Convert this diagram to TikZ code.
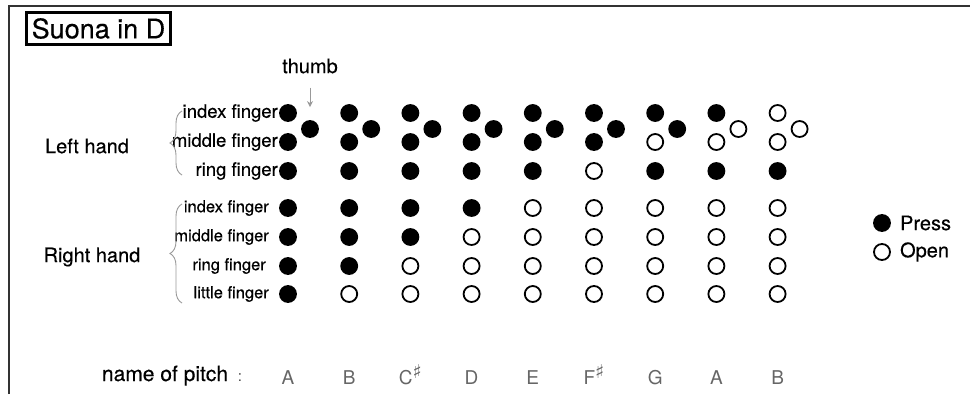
\documentclass[tikz,border=0pt]{standalone}
\usepackage{fontspec}
\setmainfont{TeX Gyre Heros}[FakeBold=0.4]
\newfontfamily\thinfont{TeX Gyre Heros}
\newfontfamily\symfont{DejaVu Sans}
\usepackage{tikz}
\usetikzlibrary{
  arrows.meta,
  calc,
  positioning,
  decorations.pathreplacing
}
\colorlet{x}{black}
\colorlet{o}{white}
\tikzset{
  hole/.style={circle,draw=black,line width=1.8pt,minimum size=16pt,inner sep=0pt},
  finger/.style={anchor=east,inner sep=0pt,font=\fontsize{18.5}{22}\selectfont},
  hand/.style={inner sep=0pt,font=\fontsize{20}{24}\selectfont},
  pitch/.style={anchor=base,inner sep=0pt,text=black!60,font=\thinfont\fontsize{19}{22}\selectfont},
  legend/.style={inner sep=0pt,font=\fontsize{20}{24}\selectfont},
  handbrace/.style={draw=black!40,line width=0.9pt,decorate,decoration={brace,amplitude=12pt}}
}
\newcommand{\shp}{\raisebox{6pt}{\fontsize{19}{20}\selectfont\symfont ♯}}

\begin{document}
\begin{tikzpicture}[x=1pt,y=-1pt,>=Latex]
  \useasboundingbox (0,0) rectangle (970,394);
  \draw[black!80,line width=1.5pt] (9,394) -- (9,6) -- (970,6);
  \node[draw,line width=3pt,inner sep=0pt,minimum width=144pt,minimum height=32pt,
        font=\fontsize{27}{30}\selectfont] (title) at (98.5,28.5) {Suona in D};

  % hands and fingers
  \node[hand] (lh) at (87,146) {Left hand};
  \node[hand] (rh) at (92,257) {Right hand};
  \node[finger] (li) at (278,113) {index finger};
  \node[finger] (lm) at (278,142) {middle finger};
  \node[finger] (lr) at (278,171) {ring finger};
  \node[finger,font=\fontsize{16.5}{19}\selectfont] (ri) at (269,208) {index finger};
  \node[finger,font=\fontsize{16.5}{19}\selectfont] (rm) at (269,237) {middle finger};
  \node[finger,font=\fontsize{16.5}{19}\selectfont] (rr) at (266,266) {ring finger};
  \node[finger,font=\fontsize{16.5}{19}\selectfont] (rl) at (269,294) {little finger};
  \coordinate (lbt) at (182,111);
  \coordinate (lbb) at (182,175);
  \coordinate (rbt) at (182,204);
  \coordinate (rbb) at (182,303);
  \draw[handbrace] (lbb) -- (lbt);
  \draw[handbrace] (rbb) -- (rbt);

  % holes: thumb, left index/middle/ring, right index/middle/ring/little
  \foreach \t/\a/\b/\c/\d/\e/\f/\g/\nm [count=\i] in {
      x/x/x/x/x/x/x/x/A,
      x/x/x/x/x/x/x/o/B,
      x/x/x/x/x/x/o/o/C\shp,
      x/x/x/x/x/o/o/o/D,
      x/x/x/x/o/o/o/o/E,
      x/x/x/o/o/o/o/o/F\shp,
      x/x/o/x/o/o/o/o/G,
      o/x/o/x/o/o/o/o/A,
      o/o/o/x/o/o/o/o/B}
  {
    \pgfmathsetmacro\cx{288+61.2*(\i-1)}
    \node[hole,fill=\t] (t\i) at (\cx+22,129) {};
    \node[hole,fill=\a] (a\i) at (\cx,113) {};
    \node[hole,fill=\b] (b\i) at (\cx,142) {};
    \node[hole,fill=\c] (c\i) at (\cx,171) {};
    \node[hole,fill=\d] (d\i) at (\cx,208) {};
    \node[hole,fill=\e] (e\i) at (\cx,237) {};
    \node[hole,fill=\f] (f\i) at (\cx,266) {};
    \node[hole,fill=\g] (g\i) at (\cx,294) {};
    \node[pitch] (p\i) at (\cx,384) {\nm};
  }

  \node[inner sep=0pt,font=\fontsize{20}{24}\selectfont] (thumb) at (310,66) {thumb};
  \draw[black!40,line width=1pt,-{Stealth[length=6pt,width=6pt]},shorten <=14pt,shorten >=13pt] (thumb) -- (t1);

  % legend
  \node[hole,fill=x] (kp) at (882,223) {};
  \node[legend,right=9pt of kp] (lp) {Press};
  \node[hole,fill=o] (ko) at (882,252) {};
  \node[legend,right=9pt of ko] (lo) {Open};

  \node[anchor=base,inner sep=0pt,font=\fontsize{21}{24}\selectfont] (np) at (165,381) {name of pitch};
  \node[anchor=base,inner sep=0pt,text=black!70,font=\thinfont\fontsize{15}{18}\selectfont] (colon) at (240,381) {:};
\end{tikzpicture}
\end{document}
